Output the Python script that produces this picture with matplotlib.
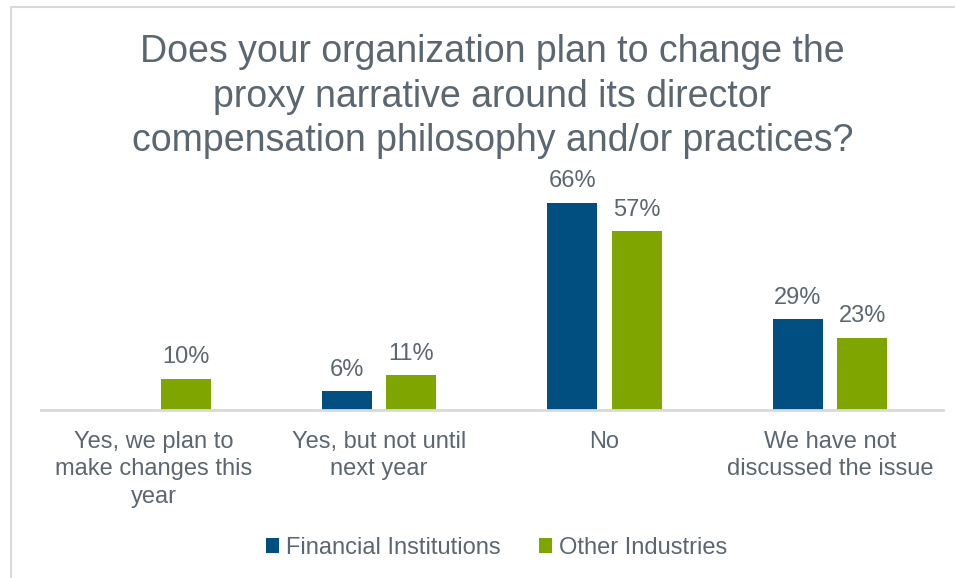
import numpy as np
import matplotlib.pyplot as plt
from matplotlib.patches import Rectangle

plt.rcParams['font.family'] = ['Liberation Sans', 'DejaVu Sans']

categories = ['Yes, we plan to\nmake changes this\nyear', 'Yes, but not until\nnext year',
              'No', 'We have not\ndiscussed the issue']
financial = [np.nan, 6, 66, 29]
other = [10, 11, 57, 23]
title = ('Does your organization plan to change the\nproxy narrative around its director\n'
         'compensation philosophy and/or practices?')

navy = '#004F80'
green = '#7FA500'
txt = '#5B6770'

fig = plt.figure(figsize=(9.55, 5.78), dpi=100)
ax = fig.add_axes([0.0427, 0.2907, 0.9445, 0.391])

# outer frame line
fig.patches.append(Rectangle((11 / 955, -0.1), 1.2, 1 - 7 / 578 + 0.1, transform=fig.transFigure,
                             fill=False, edgecolor='#D9D9D9', linewidth=1.5))

x = np.arange(len(categories))
w = 0.222
off = 0.143
b1 = ax.bar(x - off, financial, w, color=navy, label='Financial Institutions')
b2 = ax.bar(x + off, other, w, color=green, label='Other Industries')

for bars, vals in ((b1, financial), (b2, other)):
    for r, v in zip(bars, vals):
        if np.isnan(v):
            continue
        ax.text(r.get_x() + r.get_width() / 2, v + 3.3, f'{v:.0f}%', ha='center', va='bottom',
                fontsize=17, color=txt)

ax.set_xlim(-0.5, 3.5)
ax.set_ylim(0, 72)
for s in ['top', 'right', 'left']:
    ax.spines[s].set_visible(False)
ax.spines['bottom'].set_color('#D9D9D9')
ax.spines['bottom'].set_linewidth(2)
ax.set_yticks([])
ax.set_xticks(x)
ax.set_xticklabels(categories, fontsize=17, color=txt, linespacing=1.33)
ax.tick_params(axis='x', length=0, pad=15)

fig.text(0.5155, 0.941, title, ha='center', va='top', fontsize=27, color=txt, linespacing=1.3)

fig.legend(loc='center', bbox_to_anchor=(0.52, 0.052), ncol=2, frameon=False, fontsize=17,
           labelcolor=txt, handlelength=0.55, handleheight=0.55, handletextpad=0.3,
           columnspacing=1.62)

fig.savefig('out.png', dpi=100)
